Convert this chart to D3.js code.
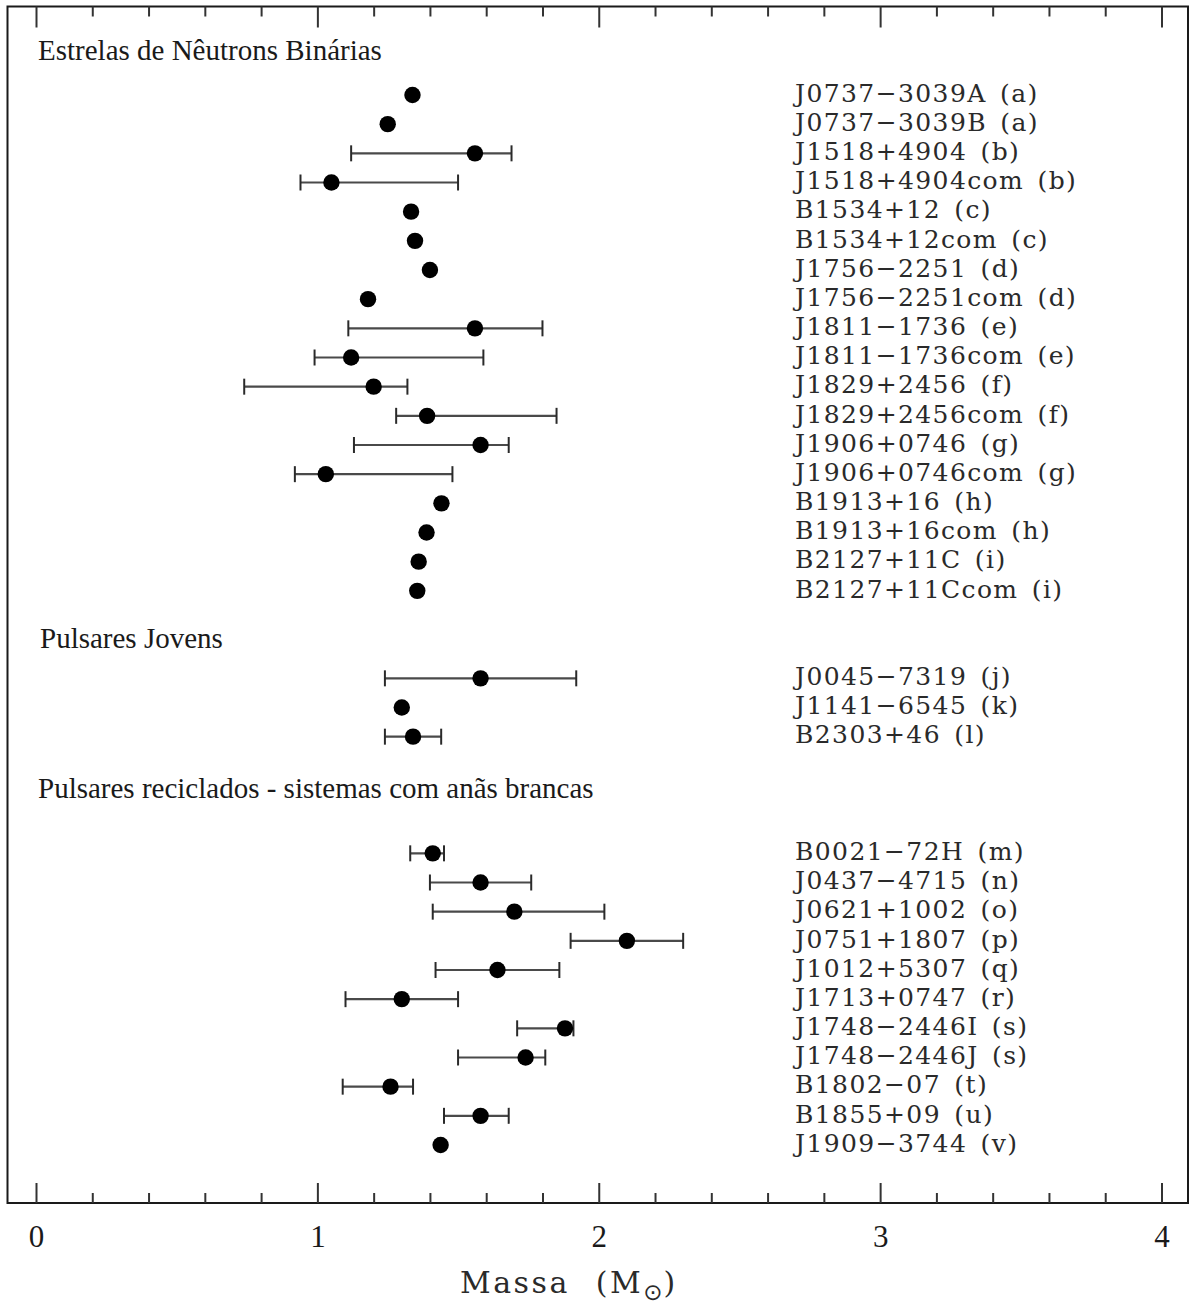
<!DOCTYPE html>
<html>
<head>
<meta charset="utf-8">
<script src="https://cdn.jsdelivr.net/npm/d3@7"></script>
<style>
  html, body { margin: 0; padding: 0; background: #fff; }
  svg { display: block; }
</style>
</head>
<body>
<svg id="chart" width="1190" height="1306"></svg>
<script>
// Pulsar names (row order, top to bottom)
const names = [
  "J0737\u22123039A (a)", "J0737\u22123039B (a)", "J1518+4904 (b)", "J1518+4904com (b)",
  "B1534+12 (c)", "B1534+12com (c)", "J1756\u22122251 (d)", "J1756\u22122251com (d)",
  "J1811\u22121736 (e)", "J1811\u22121736com (e)", "J1829+2456 (f)", "J1829+2456com (f)",
  "J1906+0746 (g)", "J1906+0746com (g)", "B1913+16 (h)", "B1913+16com (h)",
  "B2127+11C (i)", "B2127+11Ccom (i)",
  "J0045\u22127319 (j)", "J1141\u22126545 (k)", "B2303+46 (l)",
  "B0021\u221272H (m)", "J0437\u22124715 (n)", "J0621+1002 (o)", "J0751+1807 (p)",
  "J1012+5307 (q)", "J1713+0747 (r)", "J1748\u22122446I (s)", "J1748\u22122446J (s)",
  "B1802\u221207 (t)", "B1855+09 (u)", "J1909\u22123744 (v)"
];

// Row slot of each pulsar (gaps leave room for the group titles)
const rows = [
  0, 1, 2, 3, 4, 5, 6, 7, 8, 9, 10, 11, 12, 13, 14, 15, 16, 17,
  20, 21, 22,
  26, 27, 28, 29, 30, 31, 32, 33, 34, 35, 36
];

// Mass estimates (solar masses)
const mass = [
  1.338, 1.250, 1.56, 1.05, 1.333, 1.347, 1.40, 1.18,
  1.56, 1.12, 1.20, 1.39, 1.58, 1.03, 1.441, 1.388,
  1.36, 1.355,
  1.58, 1.30, 1.34,
  1.41, 1.58, 1.70, 2.10, 1.64, 1.30, 1.88, 1.74,
  1.26, 1.58, 1.438
];

// Lower / upper limits of the error bars (null = no bar drawn)
const lower = [
  null, null, 1.12, 0.94, null, null, null, null,
  1.11, 0.99, 0.74, 1.28, 1.13, 0.92, null, null,
  null, null,
  1.24, null, 1.24,
  1.33, 1.40, 1.41, 1.90, 1.42, 1.10, 1.71, 1.50,
  1.09, 1.45, null
];
const upper = [
  null, null, 1.69, 1.50, null, null, null, null,
  1.80, 1.59, 1.32, 1.85, 1.68, 1.48, null, null,
  null, null,
  1.92, null, 1.44,
  1.45, 1.76, 2.02, 2.30, 1.86, 1.50, 1.91, 1.81,
  1.34, 1.68, null
];

// Group titles and the row slot each one sits in
const groupTitles = [
  "Estrelas de N\u00eautrons Bin\u00e1rias",
  "Pulsares Jovens",
  "Pulsares reciclados - sistemas com an\u00e3s brancas"
];
const groupRows = [-1.55, 18.6, 23.76];

// Axis ticks
const majorTicks = [0, 1, 2, 3, 4];
const minorTicks = d3.range(0, 4.0001, 0.2).filter(v => Math.abs(v - Math.round(v)) > 1e-6);

const svg = d3.select("#chart");

const frame = { left: 7.5, top: 6.5, right: 1188, bottom: 1203 };

const x = d3.scaleLinear().domain([0, 4]).range([36, 1161.5]);
const y = d3.scaleLinear().domain([0, 36]).range([95, 1145]);

const ink = "#1a1a1a";
const serif = "'Liberation Serif', 'Times New Roman', serif";
const plotSerif = "'DejaVu Serif', serif";

// Plot frame
svg.append("rect")
  .attr("x", frame.left).attr("y", frame.top)
  .attr("width", frame.right - frame.left)
  .attr("height", frame.bottom - frame.top)
  .attr("fill", "none").attr("stroke", ink).attr("stroke-width", 2);

// Bottom axis: inward ticks, labels below
const bottomMajor = d3.axisBottom(x).tickValues(majorTicks).tickSizeInner(-20).tickSizeOuter(0)
  .tickPadding(22).tickFormat(d3.format("d"));
const bottomMinor = d3.axisBottom(x).tickValues(minorTicks).tickSizeInner(-10).tickSizeOuter(0)
  .tickFormat("");

const gMajB = svg.append("g").attr("transform", `translate(0,${frame.bottom})`).call(bottomMajor);
const gMinB = svg.append("g").attr("transform", `translate(0,${frame.bottom})`).call(bottomMinor);

// Top axis: ticks hanging down, no labels
const topMajor = d3.axisTop(x).tickValues(majorTicks).tickSizeInner(-21).tickSizeOuter(0).tickFormat("");
const topMinor = d3.axisTop(x).tickValues(minorTicks).tickSizeInner(-10).tickSizeOuter(0).tickFormat("");
const gMajT = svg.append("g").attr("transform", `translate(0,${frame.top})`).call(topMajor);
const gMinT = svg.append("g").attr("transform", `translate(0,${frame.top})`).call(topMinor);

[gMajB, gMinB, gMajT, gMinT].forEach(g => {
  g.select(".domain").remove();
  g.selectAll(".tick line").attr("stroke", "#333").attr("stroke-width", 2);
});
gMajB.selectAll(".tick text")
  .attr("font-family", serif).attr("font-size", 31).attr("fill", ink)
  .attr("dy", "0.71em");

// Axis title with the solar symbol as subscript
const xTitle = svg.append("text")
  .attr("x", 460).attr("y", 1293)
  .attr("text-anchor", "start")
  .attr("font-family", plotSerif).attr("font-size", 30)
  .attr("letter-spacing", "2.5px").attr("word-spacing", "14px")
  .attr("fill", "#2a2a2a");
xTitle.append("tspan").text("Massa (M");
xTitle.append("tspan").attr("font-family", "'DejaVu Sans', sans-serif")
  .attr("font-size", 23).attr("dy", 7).attr("letter-spacing", "1px").text("\u2299");
xTitle.append("tspan").attr("dy", -7).text(")");

// Group titles
svg.append("g").selectAll("text")
  .data(groupTitles)
  .join("text")
  .attr("x", (d, i) => i === 1 ? 40 : 38)
  .attr("y", (d, i) => y(groupRows[i]))
  .attr("dy", "0.35em")
  .attr("font-family", serif).attr("font-size", 29).attr("fill", ink)
  .text(d => d);

const points = names.map((n, i) => ({
  name: n, row: rows[i], m: mass[i], lo: lower[i], hi: upper[i]
}));

// Error bars
const bars = svg.append("g").selectAll("g")
  .data(points.filter(p => p.lo !== null))
  .join("g");
bars.append("line")
  .attr("x1", p => x(p.lo)).attr("x2", p => x(p.hi))
  .attr("y1", p => y(p.row)).attr("y2", p => y(p.row))
  .attr("stroke", "#4a4a4a").attr("stroke-width", 2.2);
bars.append("line")
  .attr("x1", p => x(p.lo)).attr("x2", p => x(p.lo))
  .attr("y1", p => y(p.row) - 8).attr("y2", p => y(p.row) + 8)
  .attr("stroke", "#2a2a2a").attr("stroke-width", 2);
bars.append("line")
  .attr("x1", p => x(p.hi)).attr("x2", p => x(p.hi))
  .attr("y1", p => y(p.row) - 8).attr("y2", p => y(p.row) + 8)
  .attr("stroke", "#2a2a2a").attr("stroke-width", 2);

// Mass markers
svg.append("g").selectAll("circle")
  .data(points)
  .join("circle")
  .attr("cx", p => x(p.m)).attr("cy", p => y(p.row))
  .attr("r", 8.2).attr("fill", "#000");

// Pulsar names
svg.append("g").selectAll("text")
  .data(points)
  .join("text")
  .attr("x", 795)
  .attr("y", p => y(p.row) - 2)
  .attr("dy", "0.35em")
  .attr("font-family", plotSerif).attr("font-size", 25)
  .attr("letter-spacing", "1.4px").attr("word-spacing", "4px")
  .attr("fill", "#2a2a2a")
  .text(p => p.name);
</script>
</body>
</html>
